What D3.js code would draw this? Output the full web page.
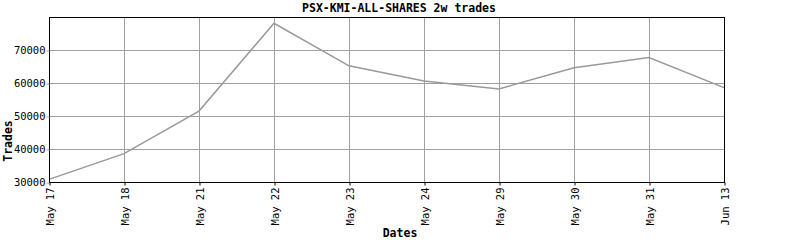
<!DOCTYPE html>
<html>
<head>
<meta charset="utf-8">
<script src="https://cdn.jsdelivr.net/npm/d3@7"></script>
<style>
    body { margin: 0; background: #fff; }
    text { font-family: "DejaVu Sans Mono", monospace; }
</style>
</head>
<body>
<div class="chart"></div>
<script>
const dates = ["May 17", "May 18", "May 21", "May 22", "May 23", "May 24", "May 29", "May 30", "May 31", "Jun 13"];
const trades = [30800, 38600, 51500, 78100, 65200, 60600, 58200, 64600, 67700, 58600];
const yTicks = [30000, 40000, 50000, 60000, 70000];

const width = 800;
const height = 240;
const plotLeft = 49, plotRight = 724, plotTop = 17, plotBottom = 182;

const svg = d3.select(".chart")
    .append("svg")
    .attr("width", width)
    .attr("height", height);

const x = d3.scalePoint().domain(dates).range([plotLeft, plotRight]);
const y = d3.scaleLinear().domain([30000, 80000]).range([plotBottom, plotTop]);

// grid
svg.selectAll(".vgrid")
    .data(dates.slice(1, -1))
    .enter()
    .append("line")
    .attr("x1", d => x(d) + 0.5).attr("x2", d => x(d) + 0.5)
    .attr("y1", plotTop).attr("y2", plotBottom)
    .attr("stroke", "#a0a0a0")
    .attr("stroke-width", 1);

svg.selectAll(".hgrid")
    .data(yTicks.slice(1))
    .enter()
    .append("line")
    .attr("x1", plotLeft).attr("x2", plotRight)
    .attr("y1", d => Math.round(y(d)) + 0.5).attr("y2", d => Math.round(y(d)) + 0.5)
    .attr("stroke", "#a0a0a0")
    .attr("stroke-width", 1);

// line
const line = d3.line()
    .x((d, i) => x(dates[i]))
    .y(d => y(d));

svg.append("path")
    .datum(trades)
    .attr("d", line)
    .attr("fill", "none")
    .attr("stroke", "#999999")
    .attr("stroke-width", 1.5);

// frame
svg.append("rect")
    .attr("x", plotLeft + 0.5).attr("y", plotTop + 0.5)
    .attr("width", plotRight - plotLeft).attr("height", plotBottom - plotTop)
    .attr("fill", "none")
    .attr("stroke", "#000");

// axes
const yAxis = d3.axisLeft(y).tickValues(yTicks).tickFormat(d3.format("d"))
    .tickSize(3).tickSizeOuter(0).tickPadding(1);
const yg = svg.append("g").attr("transform", `translate(${plotLeft + 0.5},0.5)`).call(yAxis);
yg.select(".domain").remove();
yg.selectAll("line").attr("stroke", "#a0a0a0");
yg.selectAll("text").attr("font-size", 10.5).attr("fill", "#000")
    .style("font-family", "'DejaVu Sans Mono', monospace");

const xAxis = d3.axisBottom(x).tickSize(3).tickSizeOuter(0);
const xg = svg.append("g").attr("transform", `translate(0.5,${plotBottom + 0.5})`).call(xAxis);
xg.select(".domain").remove();
xg.selectAll("text")
    .attr("font-size", 10.5)
    .attr("fill", "#000")
    .attr("text-anchor", "end")
    .attr("transform", "rotate(-90)")
    .attr("x", -5)
    .attr("y", 0)
    .attr("dy", "0.35em")
    .style("font-family", "'DejaVu Sans Mono', monospace");

// titles
svg.append("text")
    .attr("x", 399)
    .attr("y", 12)
    .attr("text-anchor", "middle")
    .attr("font-size", 11.5)
    .attr("font-weight", "bold")
    .text("PSX-KMI-ALL-SHARES 2w trades");

svg.append("text")
    .attr("x", 400)
    .attr("y", 237)
    .attr("text-anchor", "middle")
    .attr("font-size", 11.5)
    .attr("font-weight", "bold")
    .text("Dates");

svg.append("text")
    .attr("transform", "translate(12,141) rotate(-90)")
    .attr("text-anchor", "middle")
    .attr("font-size", 11.5)
    .attr("font-weight", "bold")
    .text("Trades");
</script>
</body>
</html>
